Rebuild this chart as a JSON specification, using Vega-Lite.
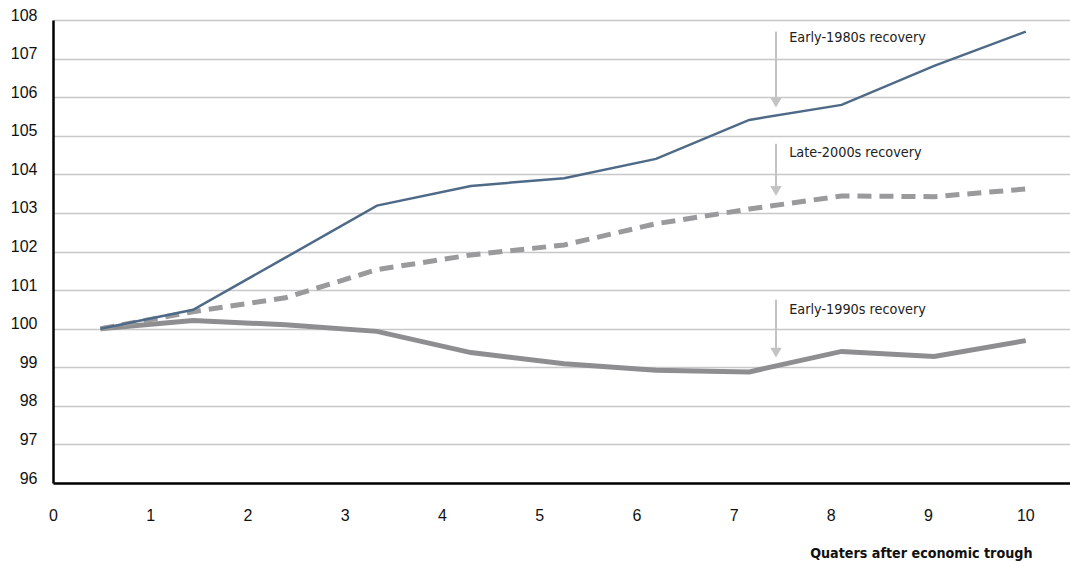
{
  "$schema": "https://vega.github.io/schema/vega-lite/v6.json",
  "width": 1017,
  "height": 463,
  "autosize": {"type": "none"},
  "padding": {"left": 53, "top": 20, "right": 0, "bottom": 83},
  "background": "white",
  "config": {"view": {"stroke": null}},
  "datasets": {
    "series": [
      {"series": "Early-1980s", "q": 0.488, "v": 100.0},
      {"series": "Early-1980s", "q": 1.441, "v": 100.49},
      {"series": "Early-1980s", "q": 2.390, "v": 101.84},
      {"series": "Early-1980s", "q": 3.332, "v": 103.19},
      {"series": "Early-1980s", "q": 4.298, "v": 103.70},
      {"series": "Early-1980s", "q": 5.257, "v": 103.90},
      {"series": "Early-1980s", "q": 6.202, "v": 104.40},
      {"series": "Early-1980s", "q": 7.161, "v": 105.41},
      {"series": "Early-1980s", "q": 8.111, "v": 105.80},
      {"series": "Early-1980s", "q": 9.063, "v": 106.81},
      {"series": "Early-1980s", "q": 10.005, "v": 107.70},
      {"series": "Early-1990s", "q": 0.488, "v": 100.0},
      {"series": "Early-1990s", "q": 1.441, "v": 100.21},
      {"series": "Early-1990s", "q": 2.390, "v": 100.10},
      {"series": "Early-1990s", "q": 3.332, "v": 99.93},
      {"series": "Early-1990s", "q": 4.298, "v": 99.38},
      {"series": "Early-1990s", "q": 5.257, "v": 99.09},
      {"series": "Early-1990s", "q": 6.202, "v": 98.92},
      {"series": "Early-1990s", "q": 7.161, "v": 98.88},
      {"series": "Early-1990s", "q": 8.111, "v": 99.41},
      {"series": "Early-1990s", "q": 9.063, "v": 99.28},
      {"series": "Early-1990s", "q": 10.005, "v": 99.69},
      {"series": "Late-2000s", "q": 0.488, "v": 100.0},
      {"series": "Late-2000s", "q": 1.441, "v": 100.44},
      {"series": "Late-2000s", "q": 2.390, "v": 100.80},
      {"series": "Late-2000s", "q": 3.332, "v": 101.53},
      {"series": "Late-2000s", "q": 4.298, "v": 101.91},
      {"series": "Late-2000s", "q": 5.257, "v": 102.17},
      {"series": "Late-2000s", "q": 6.202, "v": 102.72},
      {"series": "Late-2000s", "q": 7.161, "v": 103.10},
      {"series": "Late-2000s", "q": 8.111, "v": 103.44},
      {"series": "Late-2000s", "q": 9.063, "v": 103.42},
      {"series": "Late-2000s", "q": 10.005, "v": 103.62}
    ],
    "arrows": [
      {"q": 7.436, "v": 107.70, "v2": 105.86},
      {"q": 7.436, "v": 104.79, "v2": 103.57},
      {"q": 7.436, "v": 100.75, "v2": 99.38}
    ],
    "heads": [
      {"q": 7.436, "v": 105.86},
      {"q": 7.436, "v": 103.57},
      {"q": 7.436, "v": 99.38}
    ],
    "labels": [
      {"label": "Early-1980s recovery", "q": 7.572, "v": 107.54},
      {"label": "Late-2000s recovery", "q": 7.572, "v": 104.56},
      {"label": "Early-1990s recovery", "q": 7.572, "v": 100.49}
    ]
  },
  "encoding": {
    "x": {
      "field": "q", "type": "quantitative",
      "scale": {"domain": [0, 10.46], "nice": false, "zero": false},
      "axis": {
        "values": [0, 1, 2, 3, 4, 5, 6, 7, 8, 9, 10],
        "format": "d",
        "grid": false, "ticks": false,
        "domainColor": "#000000", "domainWidth": 2.5,
        "labelFont": "Liberation Sans", "labelFontSize": 16, "labelColor": "#111111",
        "labelPadding": 24, "labelFlush": false, "labelOverlap": false,
        "title": "Quaters after economic trough",
        "titleFont": "DejaVu Sans Condensed", "titleFontSize": 14.2, "titleFontWeight": "bold",
        "titleColor": "#111111", "titleAlign": "right", "titleAnchor": null,
        "titleX": 979, "titleY": 70, "titleBaseline": "middle"
      }
    },
    "y": {
      "field": "v", "type": "quantitative",
      "scale": {"domain": [96, 108], "nice": false, "zero": false},
      "axis": {
        "values": [96, 97, 98, 99, 100, 101, 102, 103, 104, 105, 106, 107, 108],
        "tickCount": 13,
        "format": "d",
        "grid": true, "gridColor": "#c8c8c8", "gridWidth": 1.5,
        "ticks": false,
        "domainColor": "#000000", "domainWidth": 2.5,
        "labelFont": "Liberation Sans", "labelFontSize": 16, "labelColor": "#111111",
        "labelPadding": 16, "labelOffset": -5, "labelFlush": false, "labelOverlap": false,
        "title": null
      }
    }
  },
  "layer": [
    {
      "data": {"name": "series"},
      "transform": [{"filter": "datum.series === 'Early-1990s'"}],
      "mark": {"type": "line", "color": "#8e8e90", "strokeWidth": 5, "strokeJoin": "miter"}
    },
    {
      "data": {"name": "series"},
      "transform": [{"filter": "datum.series === 'Late-2000s'"}],
      "mark": {"type": "line", "color": "#9a9a9c", "strokeWidth": 5, "strokeDash": [14, 8]}
    },
    {
      "data": {"name": "series"},
      "transform": [{"filter": "datum.series === 'Early-1980s'"}],
      "mark": {"type": "line", "color": "#4e6a87", "strokeWidth": 2.5}
    },
    {
      "data": {"name": "arrows"},
      "mark": {"type": "rule", "color": "#c3c3c3", "strokeWidth": 2},
      "encoding": {
        "y2": {"field": "v2"}
      }
    },
    {
      "data": {"name": "heads"},
      "mark": {"type": "point", "shape": "triangle-down", "filled": true, "color": "#c3c3c3", "opacity": 1, "size": 130}
    },
    {
      "data": {"name": "labels"},
      "mark": {"type": "text", "align": "left", "baseline": "middle", "font": "DejaVu Sans Condensed", "fontSize": 14.3, "color": "#222222"},
      "encoding": {
        "text": {"field": "label"}
      }
    }
  ]
}
